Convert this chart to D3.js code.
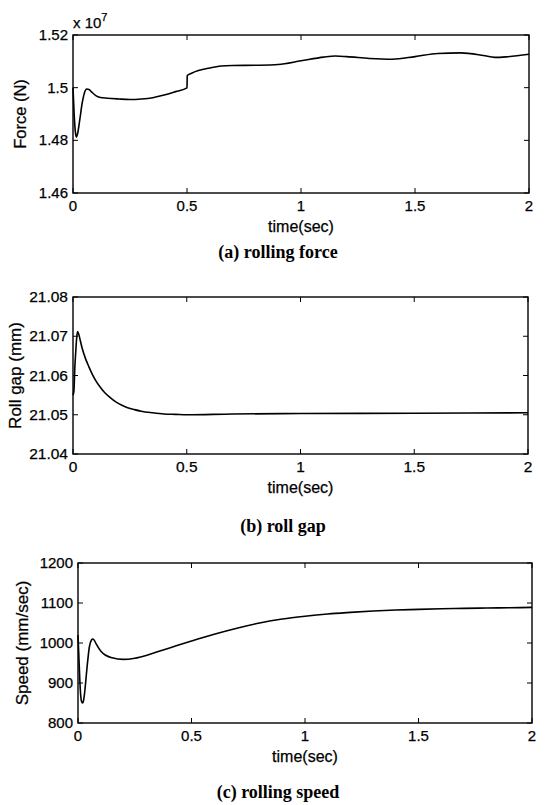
<!DOCTYPE html>
<html>
<head>
<meta charset="utf-8">
<script src="https://cdn.jsdelivr.net/npm/d3@7"></script>
<style>
  body { margin: 0; background: #fff; }
  svg { display: block; }
  .tick-label { font-family: "Liberation Sans", Arial, sans-serif; font-size: 15px; fill: #000; stroke: #000; stroke-width: 0.25px; }
  .axis-label { font-family: "Liberation Sans", Arial, sans-serif; font-size: 16px; fill: #000; stroke: #000; stroke-width: 0.25px; }
  .caption { font-family: "Liberation Serif", "Times New Roman", serif; font-size: 18px; font-weight: bold; fill: #000; }
</style>
</head>
<body>
<svg id="chart" width="547" height="805"></svg>
<script>
// x ticks shared by all panels
var timeTicks = [0, 0.5, 1, 1.5, 2];

// (a) rolling force, in units of 1e7 N
var forceTime = [0, 0.005, 0.01, 0.015, 0.02, 0.03, 0.04, 0.05, 0.06, 0.07, 0.08, 0.1, 0.12, 0.15, 0.2, 0.25, 0.3, 0.35, 0.4, 0.45, 0.5,
                 0.501, 0.52, 0.55, 0.6, 0.65, 0.7, 0.8, 0.9, 1.0, 1.1, 1.15, 1.2, 1.3, 1.4, 1.5, 1.6, 1.7, 1.8, 1.85, 1.9, 2.0];
var forceVal = [1.500, 1.490, 1.4835, 1.4812, 1.4825, 1.488, 1.494, 1.498, 1.4995, 1.4993, 1.4985, 1.497, 1.4963, 1.4960, 1.4957, 1.4955, 1.4957, 1.4962, 1.4972, 1.4985, 1.4999,
                1.5046, 1.5055, 1.5065, 1.5075, 1.5082, 1.5084, 1.5085, 1.5088, 1.5102, 1.5116, 1.5120, 1.5118, 1.5111, 1.5108, 1.5118, 1.5130, 1.5132, 1.5122, 1.5115, 1.5117, 1.5127];
var forceTicks = [1.46, 1.48, 1.5, 1.52];

// (b) roll gap, mm
var gapTime = [0, 0.004, 0.008, 0.012, 0.016, 0.02, 0.025, 0.03, 0.04, 0.055, 0.07, 0.085, 0.1, 0.12, 0.14, 0.165, 0.19, 0.215, 0.24, 0.27, 0.3, 0.35, 0.4, 0.45, 0.5, 0.7, 1.0, 1.5, 2.0];
var gapVal = [21.055, 21.056, 21.062, 21.066, 21.0695, 21.0712, 21.0706, 21.0694, 21.0670, 21.0643, 21.0622, 21.0603, 21.0587, 21.0570, 21.0556, 21.0543, 21.0532, 21.0524, 21.0518, 21.0513, 21.0509, 21.0505, 21.0502, 21.0501, 21.0500, 21.0502, 21.0503, 21.0504, 21.0505];
var gapTicks = [21.04, 21.05, 21.06, 21.07, 21.08];

// (c) rolling speed, mm/sec
var speedTime = [0, 0.005, 0.01, 0.015, 0.02, 0.025, 0.03, 0.04, 0.05, 0.06, 0.065, 0.07, 0.08, 0.1, 0.12, 0.15, 0.2, 0.25, 0.3, 0.35, 0.4, 0.5, 0.6, 0.7, 0.8, 0.9, 1.0, 1.1, 1.2, 1.3, 1.4, 1.5, 1.6, 1.7, 1.8, 1.9, 2.0];
var speedVal = [1020, 950, 885, 855, 850, 858, 880, 940, 990, 1008, 1010, 1008, 998, 980, 970, 963, 959, 962, 969, 978, 987, 1005, 1022, 1037, 1050, 1060, 1067, 1072.5, 1076.5, 1080, 1082.5, 1084, 1085.5, 1086.5, 1087.5, 1088.2, 1089];
var speedTicks = [800, 900, 1000, 1100, 1200];

var svg = d3.select("#chart");

function drawPanel(cfg) {
    var x = d3.scaleLinear().domain([0, 2]).range([cfg.left, cfg.right]);
    var y = d3.scaleLinear().domain(cfg.domain).range([cfg.bottom, cfg.top]);
    var g = svg.append("g");
    var tl = 5;

    // box
    g.append("rect")
        .attr("x", cfg.left).attr("y", cfg.top)
        .attr("width", cfg.right - cfg.left).attr("height", cfg.bottom - cfg.top)
        .attr("fill", "none").attr("stroke", "#000").attr("stroke-width", 1.4);

    // inward ticks on all four sides
    timeTicks.forEach(function(t) {
        g.append("line").attr("x1", x(t)).attr("x2", x(t)).attr("y1", cfg.bottom).attr("y2", cfg.bottom - tl)
            .attr("stroke", "#000").attr("stroke-width", 1);
        g.append("line").attr("x1", x(t)).attr("x2", x(t)).attr("y1", cfg.top).attr("y2", cfg.top + tl)
            .attr("stroke", "#000").attr("stroke-width", 1);
        g.append("text").attr("class", "tick-label")
            .style("font-size", cfg.tickSize + "px")
            .attr("x", x(t)).attr("y", cfg.bottom + 18)
            .attr("text-anchor", "middle")
            .text(d3.format("")(t));
    });
    cfg.ticks.forEach(function(v) {
        g.append("line").attr("x1", cfg.left).attr("x2", cfg.left + tl).attr("y1", y(v)).attr("y2", y(v))
            .attr("stroke", "#000").attr("stroke-width", 1);
        g.append("line").attr("x1", cfg.right).attr("x2", cfg.right - tl).attr("y1", y(v)).attr("y2", y(v))
            .attr("stroke", "#000").attr("stroke-width", 1);
        g.append("text").attr("class", "tick-label")
            .style("font-size", cfg.tickSize + "px")
            .attr("x", cfg.left - 5).attr("y", y(v) + 5)
            .attr("text-anchor", "end")
            .text(cfg.fmt(v));
    });

    // curve
    var pts = cfg.t.map(function(t, i) { return [t, cfg.v[i]]; });
    var line = d3.line()
        .x(function(d) { return x(d[0]); })
        .y(function(d) { return y(d[1]); })
        .curve(d3.curveMonotoneX);
    g.append("path").datum(pts)
        .attr("d", line)
        .attr("fill", "none").attr("stroke", "#000").attr("stroke-width", 1.6);

    // labels
    g.append("text").attr("class", "axis-label")
        .attr("x", (cfg.left + cfg.right) / 2).attr("y", cfg.bottom + 39)
        .attr("text-anchor", "middle").text("time(sec)");
    g.append("text").attr("class", "axis-label")
        .style("font-size", cfg.ylabelSize + "px")
        .attr("transform", "translate(" + cfg.ylabelX + "," + ((cfg.top + cfg.bottom) / 2) + ") rotate(-90)")
        .attr("text-anchor", "middle").text(cfg.ylabel);
    g.append("text").attr("class", "caption")
        .attr("x", cfg.captionX).attr("y", cfg.captionY)
        .attr("text-anchor", "middle").text(cfg.caption);

    if (cfg.exponent) {
        var ex = g.append("text").attr("class", "tick-label")
            .attr("x", cfg.left).attr("y", cfg.top - 7);
        ex.append("tspan").text("x 10");
        ex.append("tspan").attr("dy", -7).style("font-size", "11px").text(cfg.exponent);
    }
}

drawPanel({
    left: 73, right: 529, top: 35, bottom: 193,
    domain: [1.46, 1.52], ticks: forceTicks, fmt: d3.format(""), tickSize: 15,
    t: forceTime, v: forceVal,
    ylabel: "Force (N)", ylabelX: 26, ylabelSize: 16.5, exponent: "7",
    caption: "(a) rolling force", captionX: 278, captionY: 258
});
drawPanel({
    left: 73, right: 528, top: 297, bottom: 454,
    domain: [21.04, 21.08], ticks: gapTicks, fmt: d3.format(".2f"), tickSize: 15.5,
    t: gapTime, v: gapVal,
    ylabel: "Roll gap (mm)", ylabelX: 21, ylabelSize: 17,
    caption: "(b) roll gap", captionX: 283, captionY: 532
});
drawPanel({
    left: 78, right: 532, top: 563, bottom: 723,
    domain: [800, 1200], ticks: speedTicks, fmt: d3.format(""), tickSize: 15,
    t: speedTime, v: speedVal,
    ylabel: "Speed (mm/sec)", ylabelX: 28, ylabelSize: 17,
    caption: "(c) rolling speed", captionX: 278, captionY: 798
});
</script>
</body>
</html>
